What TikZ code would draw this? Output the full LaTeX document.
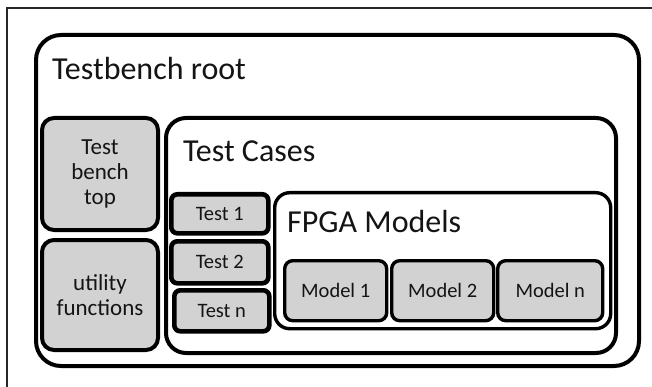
\documentclass[tikz,border=0pt]{standalone}
\usepackage{fontspec}
\setmainfont{Carlito}
\definecolor{boxgray}{RGB}{210,210,210}
\definecolor{txt}{RGB}{20,20,20}
\tikzset{
  container/.style={draw=black, line width=4pt, rounded corners=#1, fill=white, inner sep=0pt},
  graybox/.style={draw=black, line width=4pt, rounded corners=#1, fill=boxgray, inner sep=0pt, text=txt},
  bigtext/.style={font=\fontsize{32}{36}\selectfont, text=txt, inner sep=0pt, anchor=base west},
  midtext/.style={font=\fontsize{23}{25}\selectfont, align=center},
  smalltext/.style={font=\fontsize{20.5}{22}\selectfont},
}
\begin{document}
\begin{tikzpicture}[x=1pt,y=-1pt]
\useasboundingbox (0,0) rectangle (652,387);
% frame
\draw[line width=1.3pt, draw=black!85] (7,8) rectangle (670,400);
% root
\node[container=25pt, minimum width=603pt, minimum height=331pt, anchor=north west] (root) at (34,33) {};
\node[bigtext] (rootlabel) at (52,80) {Testbench root};
% left column
\node[graybox=12pt, minimum width=116pt, minimum height=112pt, anchor=north west, midtext] (tbtop) at (40,116) {Test\\bench\\top};
\node[graybox=12pt, minimum width=116pt, minimum height=110pt, anchor=north west, midtext] (util) at (40,238) {utility\\functions};
% test cases
\node[container=20pt, minimum width=450pt, minimum height=235pt, anchor=north west] (cases) at (164,116) {};
\node[bigtext] (caseslabel) at (183,162) {Test Cases};
\node[graybox=6pt, line width=4.6pt, minimum width=97pt, minimum height=39pt, anchor=north west, smalltext] (test1) at (169,192) {Test 1};
\node[graybox=6pt, line width=4.6pt, minimum width=97pt, minimum height=42pt, anchor=north west, smalltext] (test2) at (169,239) {Test 2};
\node[graybox=6pt, line width=4.6pt, minimum width=95pt, minimum height=41pt, anchor=north west, smalltext] (testn) at (172,288) {Test n};
% FPGA models
\node[container=15pt, line width=3.4pt, minimum width=336pt, minimum height=136pt, anchor=north west] (fpga) at (273,191) {};
\node[bigtext] (fpgalabel) at (287,233) {FPGA Models};
\node[graybox=8pt, line width=3.4pt, minimum width=102pt, minimum height=60pt, anchor=north west, smalltext] (model1) at (283,259) {Model 1};
\node[graybox=8pt, line width=3.4pt, minimum width=102pt, minimum height=60pt, anchor=north west, smalltext] (model2) at (390,259) {Model 2};
\node[graybox=8pt, line width=3.4pt, minimum width=105pt, minimum height=60pt, anchor=north west, smalltext] (modeln) at (496,259) {Model n};
\end{tikzpicture}
\end{document}
